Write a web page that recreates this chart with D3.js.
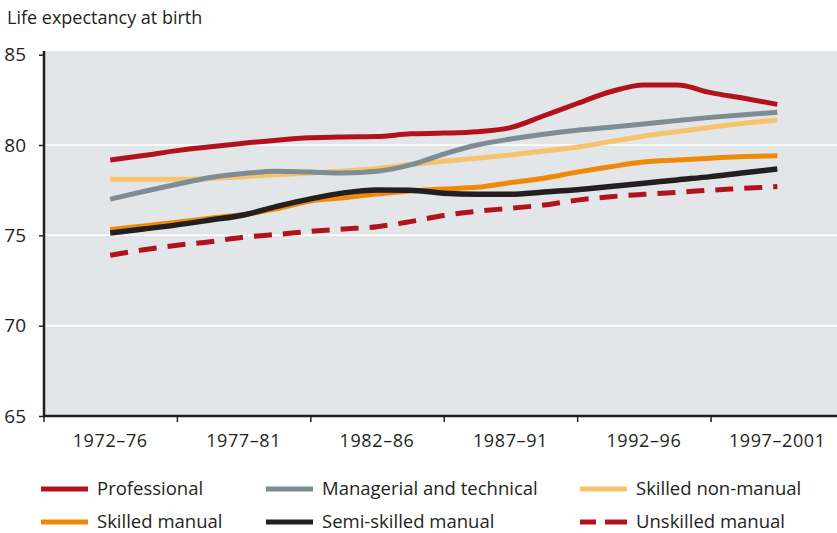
<!DOCTYPE html>
<html>
<head>
<meta charset="utf-8">
<script src="https://cdn.jsdelivr.net/npm/d3@7"></script>
<style>
  body { margin: 0; background: #ffffff; }
  svg text { font-family: "Open Sans", "Noto Sans", sans-serif; fill: #231f20; }
</style>
</head>
<body>
<svg id="chart" width="837" height="533"></svg>
<script>
// categories (5-year periods) and sampling positions along them
const periods = ["1972–76", "1977–81", "1982–86", "1987–91", "1992–96", "1997–2001"];
const steps = [0, 0.25, 0.5, 0.75, 1, 1.25, 1.5, 1.75, 2, 2.25, 2.5, 2.75, 3, 3.25, 3.5, 3.75, 4, 4.25, 4.5, 4.75, 5];
const yTicks = [65, 70, 75, 80, 85];

const professional = [79.17, 79.42, 79.69, 79.9, 80.1, 80.27, 80.4, 80.45, 80.47, 80.62, 80.66, 80.74, 80.96, 81.62, 82.3, 82.95, 83.32, 83.32, 82.9, 82.59, 82.25];
const managerial   = [77.0, 77.43, 77.83, 78.2, 78.42, 78.55, 78.5, 78.45, 78.55, 78.9, 79.5, 80.0, 80.33, 80.6, 80.82, 80.98, 81.16, 81.35, 81.53, 81.68, 81.81];
const skilledNonManual = [78.1, 78.1, 78.1, 78.15, 78.25, 78.35, 78.45, 78.56, 78.7, 78.92, 79.1, 79.27, 79.45, 79.67, 79.88, 80.19, 80.5, 80.74, 80.98, 81.2, 81.39];
const skilledManual = [75.32, 75.52, 75.72, 75.95, 76.15, 76.48, 76.9, 77.08, 77.29, 77.45, 77.57, 77.66, 77.92, 78.16, 78.5, 78.8, 79.06, 79.17, 79.27, 79.36, 79.41];
const semiSkilled  = [75.13, 75.35, 75.58, 75.85, 76.13, 76.6, 77.02, 77.35, 77.51, 77.5, 77.33, 77.27, 77.27, 77.4, 77.53, 77.7, 77.88, 78.07, 78.25, 78.47, 78.67];
const unskilled    = [73.9, 74.2, 74.45, 74.65, 74.9, 75.05, 75.22, 75.35, 75.48, 75.76, 76.1, 76.33, 76.5, 76.68, 76.95, 77.14, 77.27, 77.38, 77.5, 77.6, 77.7];

const seriesNames = ["Professional", "Managerial and technical", "Skilled non-manual",
                     "Skilled manual", "Semi-skilled manual", "Unskilled manual"];
const seriesValues = [professional, managerial, skilledNonManual, skilledManual, semiSkilled, unskilled];

const colors = ["#b3121d", "#7f8c93", "#f6c46c", "#ef8a08", "#231f20", "#b3121d"];
const widths = [5, 5, 5, 5, 5.5, 5];
const dashes = [null, null, null, null, null, "18,11"];
// drawing order: back to front
const drawOrder = [2, 1, 0, 3, 4, 5];

const svg = d3.select("#chart");
const plotLeft = 44, plotRight = 837, plotTop = 51, plotBottom = 416;

const x = d3.scaleLinear().domain([-0.5, 5.5]).range([43.5, 844]);
const y = d3.scaleLinear().domain([65, 85]).range([plotBottom, 54.7]);

// plot background
svg.append("rect")
  .attr("x", plotLeft).attr("y", plotTop)
  .attr("width", plotRight - plotLeft).attr("height", plotBottom - plotTop)
  .attr("fill", "#e2e6e8");

// gridlines
svg.append("g")
  .selectAll("line")
  .data([70, 75, 80])
  .join("line")
  .attr("x1", plotLeft).attr("x2", plotRight)
  .attr("y1", d => y(d)).attr("y2", d => y(d))
  .attr("stroke", "#ffffff")
  .attr("stroke-width", 1.5);

// title
svg.append("text")
  .attr("x", 7).attr("y", 24)
  .style("font-size", "18px")
  .text("Life expectancy at birth");

// y axis
const yAxis = svg.append("g")
  .attr("transform", `translate(${plotLeft},0)`)
  .call(d3.axisLeft(y).tickValues(yTicks).tickSize(5).tickPadding(13));
yAxis.select(".domain").remove();
yAxis.selectAll(".tick line").attr("stroke", "#231f20").attr("stroke-width", 1.5);
yAxis.selectAll(".tick text").style("font-size", "19px").attr("dy", "0.32em");

// x axis (ticks at period boundaries, labels at centres)
const xAxis = svg.append("g")
  .attr("transform", `translate(0,${plotBottom})`)
  .call(d3.axisBottom(x).tickValues(d3.range(periods.length).map(i => i - 0.5)).tickSize(6).tickFormat(""));
xAxis.select(".domain").remove();
xAxis.selectAll(".tick line").attr("stroke", "#231f20").attr("stroke-width", 1.5);

svg.append("g")
  .selectAll("text")
  .data(periods)
  .join("text")
  .attr("x", (d, i) => x(i))
  .attr("y", plotBottom + 31)
  .attr("text-anchor", "middle")
  .style("font-size", "18px")
  .style("letter-spacing", "0.6px")
  .text(d => d);

// axis lines
svg.append("line")
  .attr("x1", plotLeft).attr("x2", plotLeft).attr("y1", plotTop).attr("y2", plotBottom + 1)
  .attr("stroke", "#231f20").attr("stroke-width", 2.5);
svg.append("line")
  .attr("x1", plotLeft - 1).attr("x2", plotRight).attr("y1", plotBottom).attr("y2", plotBottom)
  .attr("stroke", "#231f20").attr("stroke-width", 2.5);

// lines
const line = d3.line()
  .x((d, i) => x(steps[i]))
  .y(d => y(d))
  .curve(d3.curveMonotoneX);

svg.append("g")
  .selectAll("path")
  .data(drawOrder)
  .join("path")
  .attr("d", k => line(seriesValues[k]))
  .attr("fill", "none")
  .attr("stroke", k => colors[k])
  .attr("stroke-width", k => widths[k])
  .attr("stroke-dasharray", k => dashes[k]);

// legend
const legendTextX = [97, 322, 636];
const legendY = [489, 522];
const legend = svg.append("g")
  .selectAll("g")
  .data(seriesNames)
  .join("g")
  .attr("transform", (d, i) => `translate(${legendTextX[i % 3]},${legendY[Math.floor(i / 3)]})`);

legend.append("line")
  .attr("x1", -56).attr("x2", -9)
  .attr("stroke", (d, i) => colors[i])
  .attr("stroke-width", 5)
  .attr("stroke-dasharray", (d, i) => dashes[i] ? "16,9,30" : null);

legend.append("text")
  .attr("x", 0)
  .attr("dy", "0.35em")
  .style("font-size", "18.5px")
  .text(d => d);
</script>
</body>
</html>
